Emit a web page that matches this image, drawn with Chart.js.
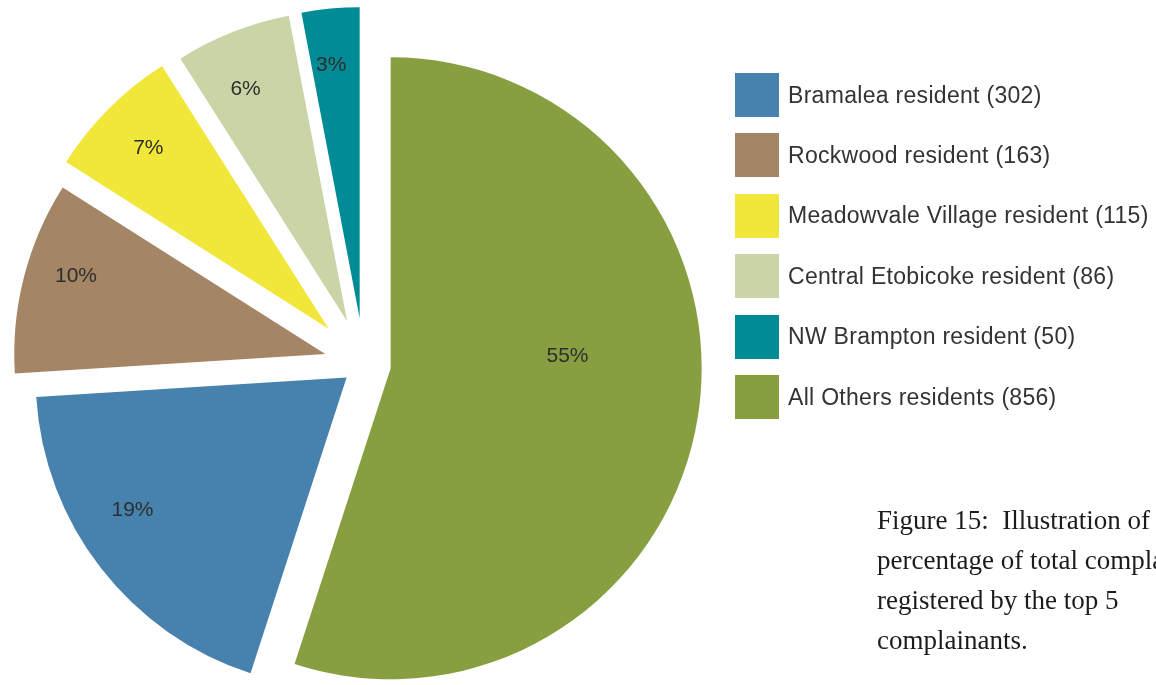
<!DOCTYPE html>
<html>
<head>
<meta charset="utf-8">
<script src="https://cdn.jsdelivr.net/npm/chart.js"></script>
<style>
  html, body { margin: 0; padding: 0; background: #fff; overflow: hidden; }
  #wrap { position: relative; width: 1156px; height: 685px; }
  #pie { position: absolute; left: 0; top: 0; }
  #legend { position: absolute; left: 735px; top: 73px; font-family: "Liberation Sans", Arial, sans-serif; font-size: 23px; letter-spacing: 0.3px; color: #333; }
  .row { position: absolute; left: 0; height: 44px; display: flex; align-items: center; white-space: nowrap; }
  .sw { width: 44px; height: 44px; margin-right: 9px; }
  #caption { position: absolute; left: 877px; top: 500px; font-family: "Liberation Serif", serif; font-size: 27px; line-height: 40px; color: #1c1c1c; white-space: nowrap; }
</style>
</head>
<body>
<div id="wrap">
  <canvas id="pie" width="1156" height="685"></canvas>
  <div id="legend"></div>
  <div id="caption">Figure 15:&nbsp; Illustration of the<br>percentage of total complaints<br>registered by the top 5<br>complainants.</div>
</div>
<script>
// data, in legend order
const categories = ['Bramalea resident', 'Rockwood resident', 'Meadowvale Village resident', 'Central Etobicoke resident', 'NW Brampton resident', 'All Others residents'];
const counts = [302, 163, 115, 86, 50, 856];
const percents = [19, 10, 7, 6, 3, 55];
const colors = ['#4682AD', '#A48666', '#F1E73A', '#C9D5A7', '#008B96', '#879F40'];

// explosion distance (px) and label placement per slice
const explode = [22, 40, 50, 46, 46, 27];
const labelDist = [0.81, 0.84, 0.82, 0.815, 0.82, 0.57];
const labelTurn = [6, 3, 0, -2, -1, -13];

// legend
const legend = document.getElementById('legend');
categories.forEach((c, i) => {
  const row = document.createElement('div');
  row.className = 'row';
  row.style.top = (i * 60.4) + 'px';
  row.innerHTML = '<div class="sw" style="background:' + colors[i] + '"></div>' + c + ' (' + counts[i] + ')';
  legend.appendChild(row);
});

// draw each slice pushed out along its middle angle
const explodePlugin = {
  id: 'explode',
  beforeDatasetDraw(chart, args) {
    const ctx = chart.ctx;
    args.meta.data.forEach((arc, i) => {
      const mid = (arc.startAngle + arc.endAngle) / 2;
      ctx.save();
      ctx.translate(Math.cos(mid) * explode[i], Math.sin(mid) * explode[i]);
      arc.draw(ctx);
      ctx.restore();
    });
    return false;
  }
};

const labelPlugin = {
  id: 'pctLabels',
  afterDatasetsDraw(chart) {
    const ctx = chart.ctx;
    const meta = chart.getDatasetMeta(0);
    ctx.save();
    ctx.font = '21px "Liberation Sans", Arial, sans-serif';
    ctx.fillStyle = '#2e2e2e';
    ctx.textAlign = 'center';
    ctx.textBaseline = 'middle';
    meta.data.forEach((arc, i) => {
      const mid = (arc.startAngle + arc.endAngle) / 2;
      const turn = mid + labelTurn[i] * Math.PI / 180;
      const cx = arc.x + Math.cos(mid) * explode[i];
      const cy = arc.y + Math.sin(mid) * explode[i];
      const r = arc.outerRadius * labelDist[i];
      ctx.fillText(percents[i] + '%', cx + Math.cos(turn) * r, cy + Math.sin(turn) * r);
    });
    ctx.restore();
  }
};

new Chart(document.getElementById('pie'), {
  type: 'pie',
  data: {
    labels: categories,
    datasets: [{
      data: percents,
      backgroundColor: colors,
      borderWidth: 0
    }]
  },
  options: {
    responsive: false,
    animation: false,
    rotation: 198,
    radius: 311,
    layout: { padding: { left: 0, right: 428, top: 43, bottom: 0 } },
    plugins: { legend: { display: false }, tooltip: { enabled: false } }
  },
  plugins: [explodePlugin, labelPlugin]
});
</script>
</body>
</html>
